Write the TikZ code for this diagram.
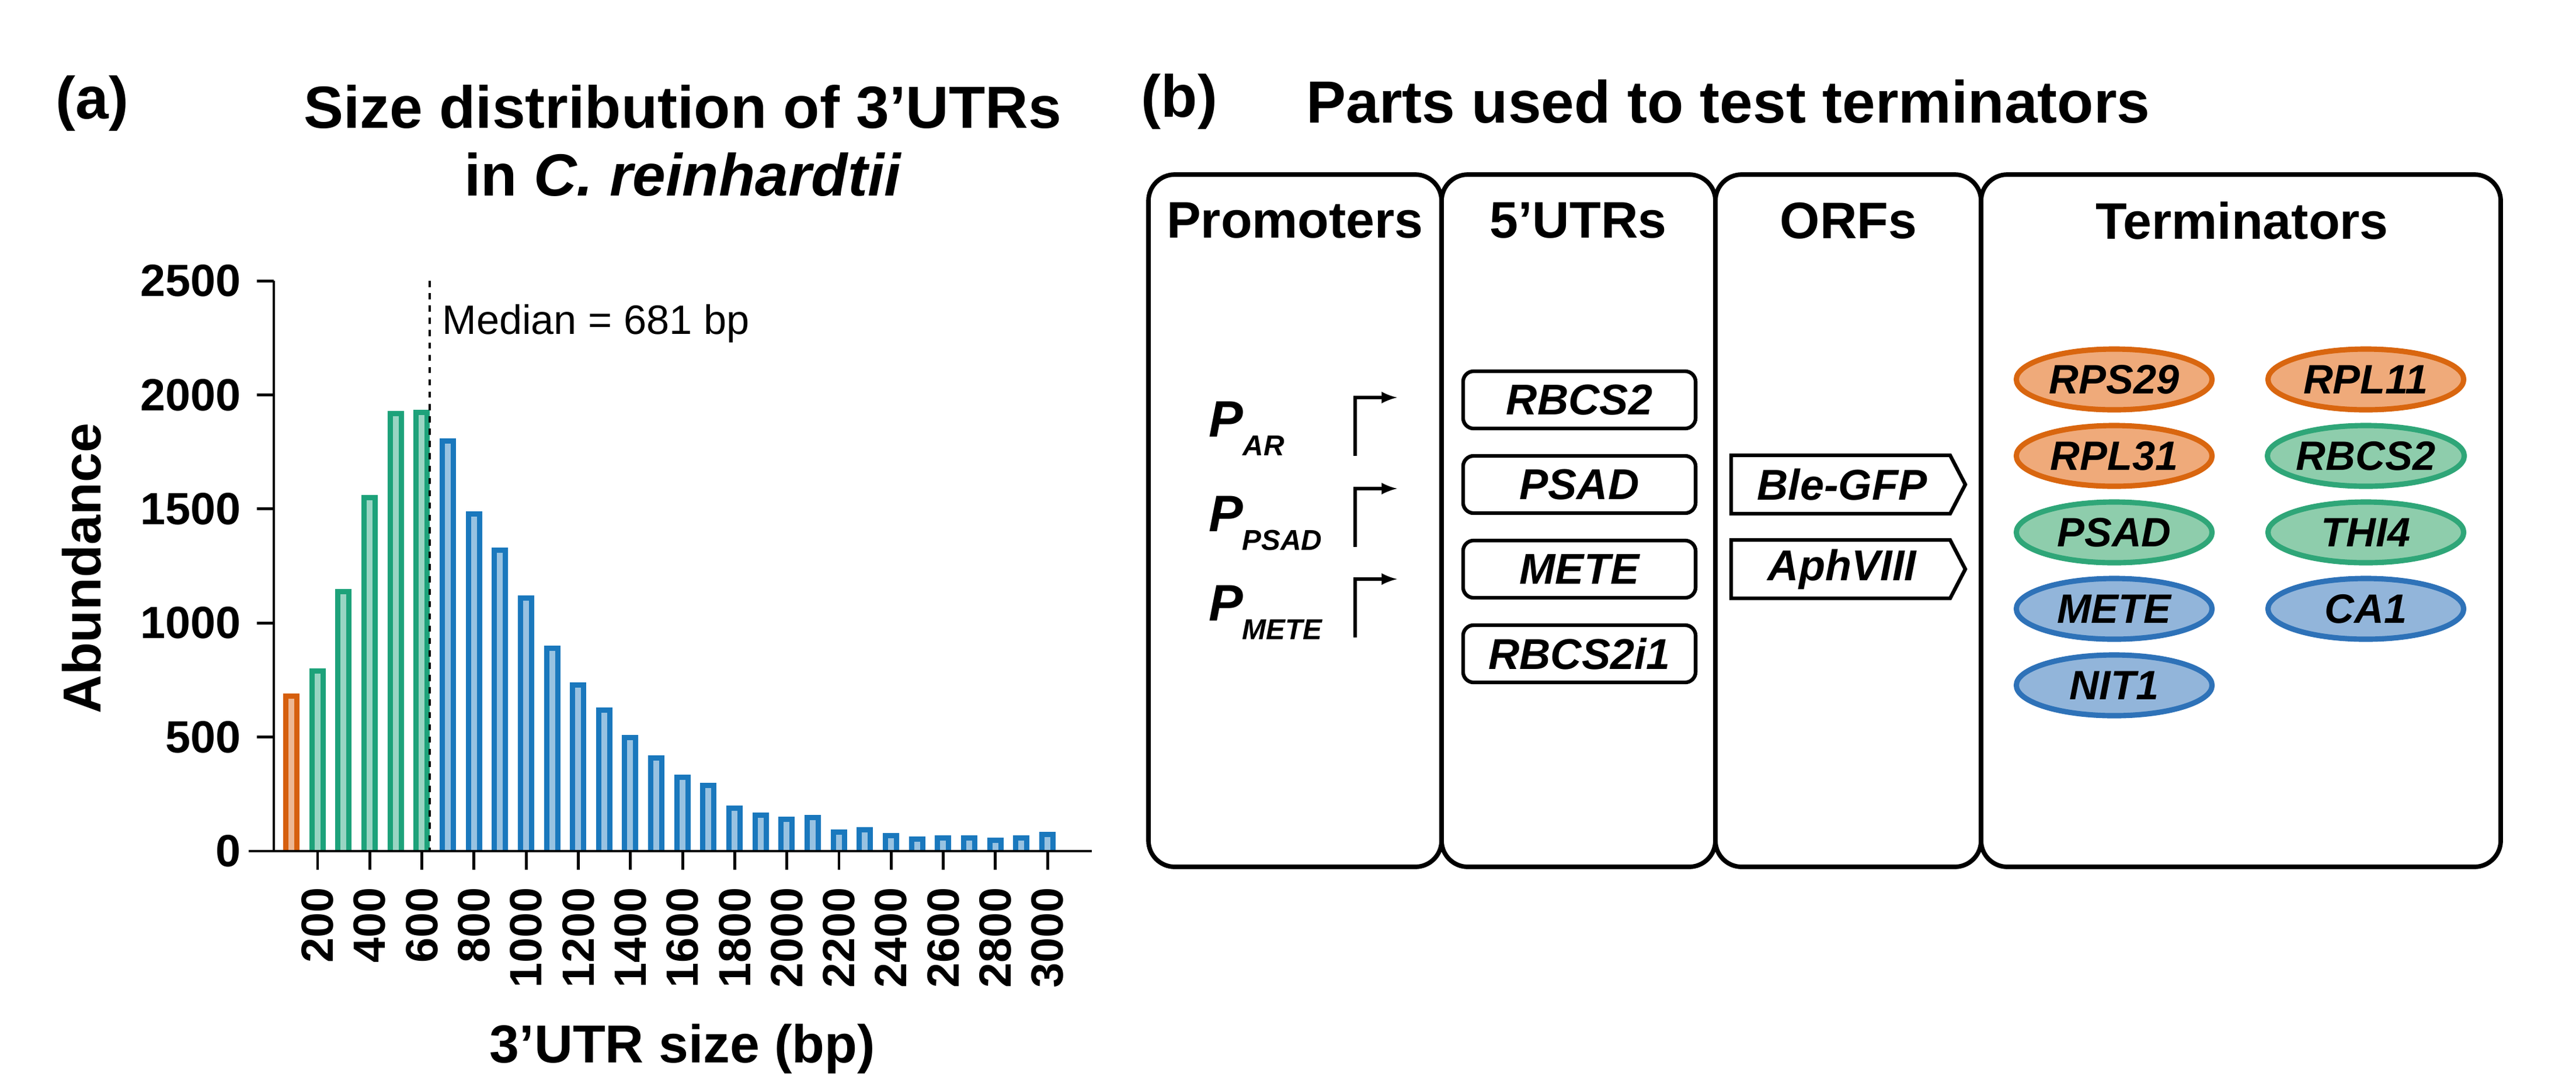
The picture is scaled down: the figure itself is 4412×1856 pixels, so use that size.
\documentclass[tikz,border=0pt]{standalone}
\usepackage{fontspec}
\setmainfont{Liberation Sans}
\usetikzlibrary{shapes.geometric}
\begin{document}
\begin{tikzpicture}[x=0.01cm,y=-0.01cm,
 ttl/.style={font=\fontsize{29}{33}\selectfont\bfseries},
 tick/.style={font=\fontsize{22}{24}\selectfont\bfseries},
 hdr/.style={font=\fontsize{25}{28}\selectfont\bfseries},
 part/.style={font=\fontsize{21}{24}\selectfont\bfseries\itshape},
 colbox/.style={draw,line width=2.2pt,rounded corners=0.45cm},
 utr/.style={draw,line width=1.8pt,rounded corners=0.18cm,minimum width=3.98cm,minimum height=0.98cm,part},
 term/.style={ellipse,draw,line width=2.6pt,minimum width=3.35cm,minimum height=1.04cm,font=\fontsize{20}{24}\selectfont\bfseries\itshape,inner sep=0pt},
 tor/.style={term,draw=orO,fill=orF},
 tgr/.style={term,draw=grO,fill=grF},
 tbl/.style={term,draw=blO,fill=blF},
]
\definecolor{orO}{HTML}{D9660F}\definecolor{orF}{HTML}{EFAA7A}
\definecolor{grO}{HTML}{2FA678}\definecolor{grF}{HTML}{8ECDAC}
\definecolor{blO}{HTML}{2E72B8}\definecolor{blF}{HTML}{92B5DA}
\definecolor{bOr}{HTML}{D65F0E}\definecolor{bGr}{HTML}{1DA27A}\definecolor{bBl}{HTML}{1A78BD}
\useasboundingbox (0,0) rectangle (4412,1856);
% ---------- panel a
\node[ttl] (la) at (158,177) {(a)};
\node[ttl,align=center] (ta) at (1169,241) {Size distribution of 3’UTRs\\in \itshape C. reinhardtii};
\foreach \v [count=\i] in {690,800,1150,1560,1930,1935,1810,1490,1330,1120,900,740,630,510,420,335,300,200,170,150,160,95,105,80,65,70,70,60,70,85}{
  \pgfmathsetmacro\xx{499+(\i-1)*44.65}
  \pgfmathsetmacro\yy{1458-\v*0.3908}
  \ifnum\i=1 \def\bc{bOr}\else\ifnum\i<7 \def\bc{bGr}\else\def\bc{bBl}\fi\fi
  \fill[\bc] (\xx-14,1458) rectangle (\xx+14,\yy);
  \fill[\bc!45!white] (\xx-5,1458) rectangle (\xx+5,\yy+9);
}
\draw[line width=1.4pt] (469,481) -- (469,1458);
\draw[line width=1.4pt] (426,1458) -- (1870,1458);
\foreach \t in {0,500,1000,1500,2000,2500}{
  \draw[line width=1.4pt] (440,1458-\t*0.3908) -- (469,1458-\t*0.3908);
  \node[tick,anchor=east] at (425,1458-\t*0.3908) {\t};
}
\foreach \k in {1,...,15}{
  \pgfmathsetmacro\xx{544+(\k-1)*89.3}
  \pgfmathtruncatemacro\lab{200*\k}
  \draw[line width=1.4pt] (\xx,1458) -- (\xx,1490);
  \node[tick,rotate=90,anchor=east] at (\xx,1508) {\lab};
}
\draw[dashed,line width=1.3pt] (736,481) -- (736,1458);
\node[font=\fontsize{20}{22}\selectfont,anchor=west] (med) at (745,554) {Median = 681 bp};
\node[font=\fontsize{26}{28}\selectfont\bfseries,rotate=90] (yl) at (140,974) {Abundance};
\node[font=\fontsize{26}{28}\selectfont\bfseries] (xl) at (1169,1797) {3’UTR size (bp)};
% ---------- panel b
\node[ttl] (lb) at (2020,174) {(b)};
\node[ttl] (tb) at (2960,174) {Parts used to test terminators};
\draw[colbox] (1967,299) rectangle (2469,1485);
\draw[colbox] (2469,299) rectangle (2938,1485);
\draw[colbox] (2938,299) rectangle (3393,1485);
\draw[colbox] (3393,299) rectangle (4283,1485);
\node[hdr] (h1) at (2218,378) {Promoters};
\node[hdr] (h2) at (2703,378) {5'UTRs};
\node[hdr] (h3) at (3166,378) {ORFs};
\node[hdr] (h4) at (3840,378) {Terminators};
% promoters
\foreach \py/\sub/\sx/\ly in {718/AR/2164/681, 880/PSAD/2196/837, 1033/METE/2196/992}{
  \node[font=\fontsize{25}{27}\selectfont\bfseries\itshape] at (2100,\py) {P};
  \node[font=\fontsize{14}{16}\selectfont\bfseries\itshape] at (\sx,\py+46) {\sub};
  \draw[line width=1.6pt,-latex] (2321,\ly+100) -- (2321,\ly) -- (2393,\ly);
}
% UTRs
\node[utr] (u1) at (2705,685) {RBCS2};
\node[utr] (u2) at (2705,830) {PSAD};
\node[utr] (u3) at (2705,975) {METE};
\node[utr] (u4) at (2705,1120) {RBCS2i1};
% ORFs
\foreach \oy/\ot/\on in {830/Ble-GFP/o1, 975/AphVIII/o2}{
  \draw[line width=1.8pt] (2965,\oy-50) -- (3340,\oy-50) -- (3366,\oy) -- (3340,\oy+50) -- (2965,\oy+50) -- cycle;
  \node[part] (\on) at (3155,\oy) {\ot};
}
% terminators
\node[tor] (t1) at (3621,650) {RPS29};
\node[tor] (t2) at (4052,650) {RPL11};
\node[tor] (t3) at (3621,781) {RPL31};
\node[tgr] (t4) at (4052,781) {RBCS2};
\node[tgr] (t5) at (3621,912) {PSAD};
\node[tgr] (t6) at (4052,912) {THI4};
\node[tbl] (t7) at (3621,1043) {METE};
\node[tbl] (t8) at (4052,1043) {CA1};
\node[tbl] (t9) at (3621,1174) {NIT1};
\end{tikzpicture}
\end{document}
